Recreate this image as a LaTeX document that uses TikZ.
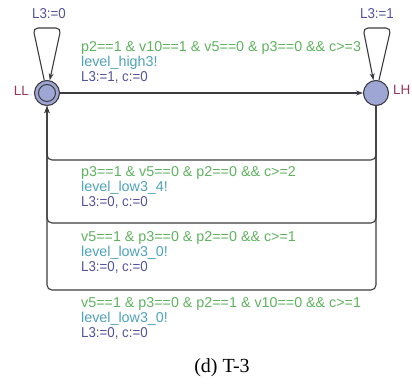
\documentclass[tikz,border=0pt]{standalone}
\usepackage{fontspec}
\setmainfont{Liberation Serif}
\newfontfamily\labelfont{Liberation Sans}
\usepackage{graphicx}
\usetikzlibrary{arrows.meta}

\definecolor{guardcol}{RGB}{95,178,95}
\definecolor{synccol}{RGB}{78,162,186}
\definecolor{updcol}{RGB}{82,82,158}
\definecolor{namecol}{RGB}{150,55,90}
\definecolor{locfill}{RGB}{158,166,212}
\definecolor{edgecol}{RGB}{60,60,64}

\newcommand{\updtext}[1]{\scalebox{0.93}[1]{#1}}

\begin{document}
\begin{tikzpicture}[x=1pt,y=-1pt,
  lbl/.style={anchor=base west, inner sep=0pt, font=\labelfont\fontsize{14.3}{15}\selectfont},
  guard/.style={lbl, text=guardcol},
  sync/.style={lbl, text=synccol},
  upd/.style={lbl, text=updcol},
  loc/.style={circle, draw=edgecol, fill=locfill, line width=1.1pt, minimum size=25pt, inner sep=0pt},
  initring/.style={circle, draw=edgecol, line width=1pt, minimum size=17pt, inner sep=0pt},
  locname/.style={inner sep=0pt, text=namecol, font=\labelfont\fontsize{13.5}{15}\selectfont},
  trans/.style={draw=edgecol, line width=1.1pt, -{Stealth[length=7pt,width=5pt]}},
]
\useasboundingbox (0,0) rectangle (412,383);

% locations
\node[loc] (LL) at (47,93) {};
\node[initring] (LLinit) at (LL) {};
\node[loc] (LH) at (376,93) {};
\node[locname, anchor=base east] (nLL) at (29,95) {LL};
\node[locname, anchor=base west] (nLH) at (393,94) {LH};

% self loops
\coordinate (a1) at (33,28);
\coordinate (a2) at (61,28);
\draw[trans, rounded corners=5pt] (LL) -- (a1) -- (a2) -- (LL);
\node[upd] (u0) at (32,18) {\updtext{L3:=0}};

\coordinate (b1) at (391,28);
\coordinate (b2) at (363,28);
\draw[trans, rounded corners=5pt] (LH) -- (b1) -- (b2) -- (LH);
\node[upd] (u1) at (360,18) {\updtext{L3:=1}};

% LL -> LH
\draw[trans] (LL) -- (LH);
\node[guard] (g1) at (81,51) {p2==1 \& v10==1 \& v5==0 \& p3==0 \&\& c>=3};
\node[sync]  (s1) at (81,66) {level\_high3!};
\node[upd]   (w1) at (81,81) {\updtext{L3:=1, c:=0}};

% LH -> LL return transitions
\coordinate (r1) at (200,160);
\coordinate (r2) at (200,223);
\coordinate (r3) at (200,290);
\draw[trans, rounded corners=5pt] (LH.south) |- (r1) -| (LL.south);
\draw[trans, rounded corners=5pt] (LH.south) |- (r2) -| (LL.south);
\draw[trans, rounded corners=5pt] (LH.south) |- (r3) -| (LL.south);

\node[guard] (g2) at (81,176) {p3==1 \& v5==0 \& p2==0 \&\& c>=2};
\node[sync]  (s2) at (81,191) {level\_low3\_4!};
\node[upd]   (w2) at (81,206) {\updtext{L3:=0, c:=0}};

\node[guard] (g3) at (81,241) {v5==1 \& p3==0 \& p2==0 \&\& c>=1};
\node[sync]  (s3) at (81,256) {level\_low3\_0!};
\node[upd]   (w3) at (81,271) {\updtext{L3:=0, c:=0}};

\node[guard] (g4) at (81,307) {v5==1 \& p3==0 \& p2==1 \& v10==0 \&\& c>=1};
\node[sync]  (s4) at (81,322) {level\_low3\_0!};
\node[upd]   (w4) at (81,337) {\updtext{L3:=0, c:=0}};

% caption
\node[anchor=base, inner sep=0pt, font=\fontsize{20}{22}\selectfont] (cap) at (222,372) {(d) T-3};
\end{tikzpicture}
\end{document}
